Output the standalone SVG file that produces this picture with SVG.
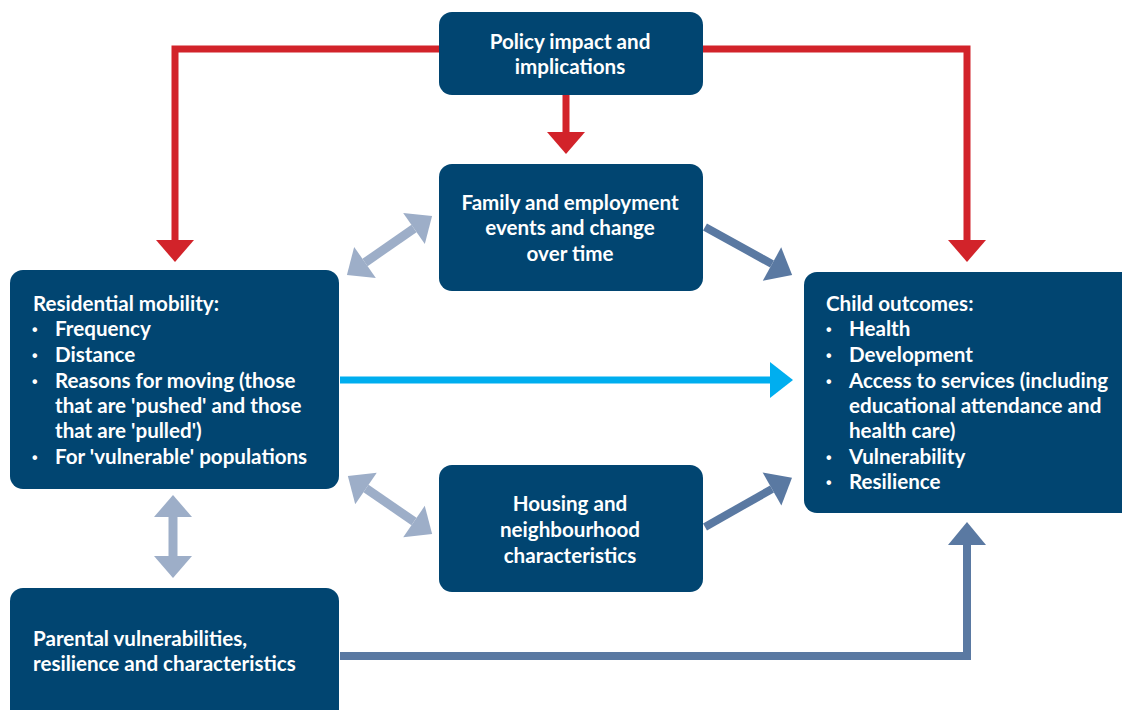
<svg xmlns="http://www.w3.org/2000/svg" width="1122" height="710" viewBox="0 0 1122 710">
<style>
.box{fill:#014571}
.t{font-family:Lato,"Open Sans","Liberation Sans",sans-serif;font-weight:700;font-size:20.6px;fill:#ffffff}
.b{font-family:"Liberation Sans","DejaVu Sans",sans-serif;font-weight:700;font-size:16px;fill:#ffffff}
.c{text-anchor:middle}
.red{fill:none;stroke:#d2232a;stroke-width:7}
.cyan{fill:none;stroke:#00aeef;stroke-width:7}
.mid{fill:none;stroke:#5a79a2;stroke-width:8}
.lt{fill:none;stroke:#9daec8;stroke-width:9}
</style>
<defs>
<marker id="hRed" markerUnits="userSpaceOnUse" markerWidth="24" markerHeight="40" refX="0" refY="19" orient="auto" overflow="visible"><path d="M0,0 L22,19 L0,38 z" fill="#d2232a"/></marker>
<marker id="hCyan" markerUnits="userSpaceOnUse" markerWidth="24" markerHeight="40" refX="0" refY="18" orient="auto" overflow="visible"><path d="M0,0 L23,18 L0,36 z" fill="#00aeef"/></marker>
<marker id="hMid" markerUnits="userSpaceOnUse" markerWidth="24" markerHeight="40" refX="0" refY="19" orient="auto" overflow="visible"><path d="M0,0 L23,19 L0,38 z" fill="#5a79a2"/></marker>
<marker id="hLt" markerUnits="userSpaceOnUse" markerWidth="24" markerHeight="40" refX="0" refY="19" orient="auto-start-reverse" overflow="visible"><path d="M0,0 L22,19 L0,38 z" fill="#9daec8"/></marker>
</defs>
<g id="connectors">
<path class="red" d="M439,49 H175 V240" marker-end="url(#hRed)"/>
<path class="red" d="M703,49 H967 V240" marker-end="url(#hRed)"/>
<path class="red" d="M566,95 V132" marker-end="url(#hRed)"/>
<path class="cyan" d="M340,380 H770" marker-end="url(#hCyan)"/>
<path class="mid" d="M340,656 H967 V545" marker-end="url(#hMid)"/>
<path class="mid" d="M705,227 L772,264" marker-end="url(#hMid)"/>
<path class="mid" d="M705,527 L772,489" marker-end="url(#hMid)"/>
<path class="lt" d="M365,262.5 L414,228.5" marker-start="url(#hLt)" marker-end="url(#hLt)"/>
<path class="lt" d="M366,488.5 L414,521.5" marker-start="url(#hLt)" marker-end="url(#hLt)"/>
<path class="lt" d="M173,517 V556" marker-start="url(#hLt)" marker-end="url(#hLt)"/>
</g>
<g id="policy">
<rect class="box" x="439" y="12" width="264" height="83" rx="13"/>
<text class="t c" x="570" y="49">Policy impact and</text>
<text class="t c" x="570" y="74">implications</text>
</g>
<g id="family">
<rect class="box" x="439" y="164" width="264" height="127" rx="13"/>
<text class="t c" x="570" y="210">Family and employment</text>
<text class="t c" x="570" y="235">events and change</text>
<text class="t c" x="570" y="261">over time</text>
</g>
<g id="housing">
<rect class="box" x="439" y="465" width="264" height="127" rx="13"/>
<text class="t c" x="570" y="511">Housing and</text>
<text class="t c" x="570" y="537">neighbourhood</text>
<text class="t c" x="570" y="563">characteristics</text>
</g>
<g id="residential">
<rect class="box" x="10" y="270" width="329" height="219" rx="13"/>
<text class="t" x="33" y="311">Residential mobility:</text>
<text class="b" x="32" y="335">•</text><text class="t" x="55" y="336">Frequency</text>
<text class="b" x="32" y="361">•</text><text class="t" x="55" y="362">Distance</text>
<text class="b" x="32" y="387">•</text><text class="t" x="55" y="388">Reasons for moving (those</text>
<text class="t" x="55" y="413">that are 'pushed' and those</text>
<text class="t" x="55" y="438">that are 'pulled')</text>
<text class="b" x="32" y="463">•</text><text class="t" x="55" y="464">For 'vulnerable' populations</text>
</g>
<g id="child">
<rect class="box" x="804" y="272" width="340" height="241" rx="13"/>
<text class="t" x="826" y="311">Child outcomes:</text>
<text class="b" x="826" y="335">•</text><text class="t" x="849" y="336">Health</text>
<text class="b" x="826" y="361">•</text><text class="t" x="849" y="362">Development</text>
<text class="b" x="826" y="387">•</text><text class="t" x="849" y="388">Access to services (including</text>
<text class="t" x="849" y="413">educational attendance and</text>
<text class="t" x="849" y="438">health care)</text>
<text class="b" x="826" y="463">•</text><text class="t" x="849" y="464">Vulnerability</text>
<text class="b" x="826" y="488">•</text><text class="t" x="849" y="489">Resilience</text>
</g>
<g id="parental">
<rect class="box" x="10" y="588" width="329" height="140" rx="13"/>
<text class="t" x="33" y="646">Parental vulnerabilities,</text>
<text class="t" x="33" y="671">resilience and characteristics</text>
</g>
</svg>
